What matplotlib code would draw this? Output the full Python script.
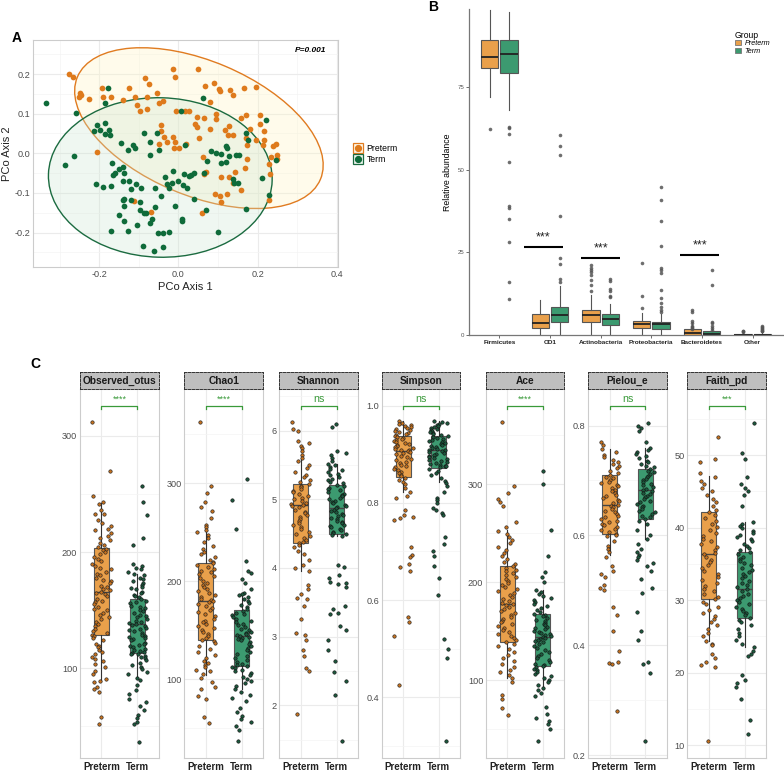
import numpy as np
import matplotlib
matplotlib.use("Agg")
import matplotlib.pyplot as plt
from matplotlib.patches import Ellipse, Patch
from matplotlib.lines import Line2D
from matplotlib.ticker import FixedLocator, MultipleLocator
import matplotlib.transforms as mtransforms

plt.rcParams['font.family'] = ['Liberation Sans', 'DejaVu Sans']

# ---------------- panel A : PCoA ----------------
pre_x = [-0.275, -0.265, -0.249, -0.247, -0.252, -0.226, -0.192, -0.191, -0.170, -0.140,
         -0.124, -0.110, -0.104, -0.098, -0.083, -0.074, -0.080, -0.078, -0.053, -0.048,
         -0.039, -0.045, -0.043, -0.036, -0.013, -0.008, 0.050, 0.066, 0.091, 0.079,
         0.102, 0.106, 0.130, 0.137, 0.165, 0.196, 0.046, 0.043, 0.047, 0.064,
         0.094, 0.095, 0.081, 0.118, 0.129, 0.125, 0.137, 0.159, 0.172, 0.181,
         0.171, 0.174, 0.207, 0.207, 0.216, 0.217, 0.213, 0.238, 0.246, 0.250,
         0.249, 0.234, 0.231, 0.229, 0.173, 0.168, 0.142, 0.129, 0.123, 0.105,
         0.108, 0.092, 0.060, 0.065, 0.070, -0.008, -0.011, -0.029, -0.013, -0.006,
         0.018, 0.028, 0.051, 0.061, -0.048, -0.068, -0.112, -0.206, 0.001, 0.019,
         0.137, 0.159, 0.108, 0.197, 0.230]
pre_y = [0.199, 0.192, 0.153, 0.147, 0.143, 0.137, 0.164, 0.143, 0.143, 0.134,
         0.166, 0.143, 0.122, 0.108, 0.191, 0.174, 0.143, 0.111, 0.153, 0.126,
         0.132, 0.071, 0.056, 0.042, 0.214, 0.193, 0.214, 0.170, 0.178, 0.130,
         0.162, 0.158, 0.161, 0.147, 0.166, 0.168, 0.092, 0.073, 0.067, 0.090,
         0.099, 0.086, 0.061, 0.059, 0.069, 0.045, 0.045, 0.090, 0.097, 0.061,
         0.038, 0.022, 0.097, 0.074, 0.056, 0.034, 0.021, 0.018, 0.023, -0.004,
         -0.015, -0.009, -0.052, -0.118, -0.015, -0.038, -0.046, -0.061, -0.102, -0.109,
         -0.122, -0.103, -0.150, -0.052, -0.048, 0.028, 0.014, 0.028, 0.040, 0.108,
         0.108, 0.108, 0.038, -0.010, 0.023, -0.149, -0.121, 0.003, 0.013, 0.023,
         -0.074, -0.092, -0.059, 0.033, -0.027]
term_x = [-0.333, -0.259, -0.264, -0.286, -0.178, -0.186, -0.206, -0.212, -0.199, -0.186,
          -0.175, -0.186, -0.173, -0.144, -0.115, -0.128, -0.109, -0.088, -0.071, -0.048,
          -0.053, -0.071, -0.167, -0.160, -0.165, -0.151, -0.140, -0.138, -0.209, -0.190,
          -0.171, -0.140, -0.124, -0.108, -0.119, -0.137, -0.139, -0.136, -0.120, -0.097,
          -0.150, -0.137, -0.127, -0.170, -0.104, -0.098, -0.081, -0.087, -0.060, -0.066,
          -0.071, -0.060, -0.044, -0.052, -0.040, -0.023, -0.089, -0.062, -0.040, -0.034,
          -0.029, -0.023, -0.013, -0.016, -0.009, 0.008, 0.008, 0.011, 0.013, 0.022,
          0.026, 0.032, 0.039, 0.039, 0.071, 0.064, 0.073, 0.083, 0.094, 0.107,
          0.121, 0.107, 0.121, 0.124, 0.129, 0.139, 0.141, 0.150, 0.170, 0.145,
          0.152, 0.172, 0.177, 0.211, 0.229, 0.222, 0.246, 0.063, 0.006, 0.018,
          0.100, -0.001, -0.094]
term_y = [0.127, 0.101, -0.008, -0.030, 0.164, 0.126, 0.072, 0.057, 0.060, 0.077,
          0.059, 0.049, 0.047, 0.027, 0.021, 0.008, 0.013, 0.050, 0.028, 0.008,
          0.050, -0.005, -0.025, -0.049, -0.055, -0.040, -0.035, -0.049, -0.077, -0.084,
          -0.082, -0.071, -0.071, -0.078, -0.090, -0.115, -0.118, -0.132, -0.118, -0.123,
          -0.155, -0.172, -0.195, -0.196, -0.181, -0.143, -0.150, -0.151, -0.136, -0.166,
          -0.176, -0.088, -0.108, -0.202, -0.202, -0.199, -0.235, -0.246, -0.237, -0.059,
          -0.077, -0.087, -0.044, -0.074, -0.132, -0.165, -0.171, -0.081, -0.052, -0.088,
          -0.057, -0.054, -0.050, -0.115, -0.144, -0.049, -0.019, 0.006, 0.002, -0.025,
          -0.021, -0.003, 0.018, 0.013, -0.007, -0.066, -0.074, -0.074, -0.141, -0.005,
          -0.005, 0.050, 0.033, -0.062, -0.106, 0.083, -0.017, 0.139, 0.108, 0.022,
          -0.198, -0.071, -0.087]

# ---------------- panel B : relative abundance ----------------
taxa = ['Firmicutes', 'OD1', 'Actinobacteria', 'Proteobacteria', 'Bacteroidetes', 'Other']
b_pre_med = [84.2, 3.4, 5.9, 3.2, 0.5, 0.05]
b_pre_q1 = [80.6, 1.9, 3.8, 2.1, 0.0, 0.0]
b_pre_q3 = [89.2, 6.2, 7.5, 4.1, 1.6, 0.2]
b_pre_lo = [71.9, 0.0, 0.0, 0.3, 0.0, 0.0]
b_pre_hi = [98.2, 10.4, 12.0, 6.5, 3.8, 0.5]
b_pre_fliers = [[62.3],
                [],
                [21.0, 20.3, 19.7, 19.0, 18.2, 16.5, 15.0, 13.3],
                [21.6, 11.6, 8.0],
                [7.5, 7.0, 4.1, 3.4, 2.6, 2.3, 2.0, 1.8],
                [1.2, 1.0, 0.9]]
b_term_med = [84.9, 5.9, 4.7, 3.1, 0.3, 0.05]
b_term_q1 = [79.3, 3.7, 2.9, 1.7, 0.0, 0.0]
b_term_q3 = [89.2, 8.3, 6.2, 3.9, 1.0, 0.3]
b_term_lo = [68.1, 0.0, 0.0, 0.2, 0.0, 0.0]
b_term_hi = [97.8, 14.7, 9.3, 6.2, 2.3, 0.7]
b_term_fliers = [[63.0, 62.5, 60.9, 52.4, 38.9, 38.4, 35.1, 28.2, 15.9, 10.9],
                 [60.3, 57.1, 54.5, 35.8, 23.1, 21.3, 16.9, 15.9],
                 [16.9, 16.3, 13.7, 13.3, 11.7, 11.3],
                 [44.8, 40.9, 34.4, 26.7, 20.3, 19.7, 18.7, 13.5, 11.2, 9.5, 8.3, 7.6, 7.0],
                 [19.7, 15.1, 3.9, 3.4, 2.6, 1.9, 1.5],
                 [2.6, 2.3, 2.0, 1.7, 1.4, 1.2, 1.0]]
b_sig_pos = [1.87, 3.0, 4.96]
b_sig_y = [26.4, 23.1, 24.0]

# ---------------- panel C : alpha diversity ----------------
metrics = ['Observed_otus', 'Chao1', 'Shannon', 'Simpson', 'Ace', 'Pielou_e', 'Faith_pd']
sig_labels = ['****', '****', 'ns', 'ns', '****', 'ns', '***']

obs_pre = [312, 270, 248, 243, 241, 236, 233, 233, 228, 225, 222, 220, 219, 216, 214, 212, 210, 208,
           206, 204, 203, 202, 200, 198, 196, 194, 192, 190, 188, 186, 185, 183, 181, 180, 178, 176,
           175, 173, 171, 170, 168, 167, 166, 165, 164, 162, 160, 158, 157, 155, 153, 151, 150, 148,
           146, 144, 142, 140, 138, 136, 134, 132, 130, 129, 128, 126, 124, 121, 119, 118, 116, 114,
           112, 110, 108, 106, 104, 101, 98, 95, 91, 89, 88, 84, 82, 80, 58, 52]
obs_term = [257, 243, 232, 212, 206, 190, 188, 186, 185, 183, 181, 180, 178, 177, 175, 173, 172, 170,
            169, 168, 166, 165, 163, 162, 161, 160, 158, 157, 156, 154, 153, 152, 150, 149, 148, 146,
            145, 144, 142, 141, 140, 139, 138, 137, 136, 135, 134, 133, 132, 130, 129, 128, 127, 126,
            125, 124, 122, 121, 120, 119, 118, 117, 116, 115, 114, 113, 112, 112, 111, 110, 109, 107,
            105, 103, 101, 99, 97, 95, 92, 90, 86, 81, 78, 74, 71, 68, 64, 60, 57, 54, 52, 37]
chao_pre = [363, 297, 290, 281, 276, 272, 265, 257, 255, 252, 250, 247, 244, 240, 236, 233, 230, 228,
            225, 222, 220, 219, 217, 215, 213, 211, 209, 207, 205, 203, 200, 198, 196, 194, 192, 190,
            188, 186, 184, 182, 181, 180, 179, 177, 175, 173, 171, 169, 167, 165, 162, 160, 158, 156,
            154, 152, 150, 148, 146, 144, 142, 140, 139, 137, 134, 131, 128, 125, 122, 119, 117, 115,
            113, 110, 108, 105, 101, 97, 92, 90, 83, 80, 62, 55]
chao_term = [304, 283, 253, 221, 210, 208, 202, 198, 192, 188, 187, 186, 184, 182, 180, 178, 176, 174,
             172, 170, 168, 167, 166, 164, 162, 160, 158, 156, 155, 153, 151, 150, 148, 147, 146, 145,
             144, 143, 142, 141, 140, 138, 136, 134, 132, 130, 128, 126, 124, 122, 120, 118, 116, 115,
             114, 113, 112, 110, 108, 106, 104, 102, 100, 98, 96, 93, 90, 87, 84, 81, 78, 71, 67, 63,
             59, 56, 52, 48, 37]
shan_pre = [6.13, 6.02, 6.0, 5.85, 5.82, 5.78, 5.75, 5.70, 5.65, 5.60, 5.55, 5.50, 5.45, 5.40, 5.36,
            5.32, 5.28, 5.25, 5.22, 5.20, 5.18, 5.15, 5.12, 5.10, 5.08, 5.05, 5.02, 5.00, 4.98, 4.95,
            4.93, 4.91, 4.90, 4.88, 4.85, 4.82, 4.80, 4.77, 4.74, 4.71, 4.68, 4.65, 4.62, 4.59, 4.56,
            4.53, 4.50, 4.47, 4.44, 4.41, 4.38, 4.36, 4.33, 4.30, 4.25, 4.20, 4.12, 4.05, 4.00, 3.95,
            3.75, 3.70, 3.62, 3.57, 3.55, 3.45, 3.25, 3.05, 3.02, 2.95, 2.80, 2.72, 2.55, 2.50, 1.88]
shan_term = [6.10, 6.05, 5.70, 5.68, 5.65, 5.60, 5.55, 5.52, 5.50, 5.47, 5.44, 5.42, 5.40, 5.37, 5.35,
             5.33, 5.30, 5.28, 5.25, 5.23, 5.21, 5.19, 5.17, 5.15, 5.13, 5.10, 5.08, 5.06, 5.04, 5.02,
             5.00, 4.98, 4.96, 4.94, 4.92, 4.90, 4.88, 4.87, 4.85, 4.83, 4.81, 4.79, 4.77, 4.75, 4.73,
             4.71, 4.69, 4.67, 4.65, 4.63, 4.61, 4.59, 4.57, 4.55, 4.53, 4.51, 4.49, 4.48, 4.47, 4.05,
             4.02, 3.90, 3.85, 3.80, 3.78, 3.77, 3.72, 3.45, 3.40, 3.35, 3.33, 3.15, 3.10, 2.95, 2.80,
             2.65, 2.48, 2.35, 2.15, 1.48]
simp_pre = [0.968, 0.965, 0.962, 0.960, 0.958, 0.956, 0.954, 0.952, 0.950, 0.948, 0.946, 0.944, 0.942,
            0.940, 0.938, 0.936, 0.934, 0.932, 0.930, 0.928, 0.926, 0.924, 0.922, 0.920, 0.918, 0.916,
            0.914, 0.912, 0.910, 0.908, 0.906, 0.904, 0.902, 0.900, 0.897, 0.894, 0.891, 0.888, 0.885,
            0.882, 0.879, 0.876, 0.873, 0.870, 0.867, 0.864, 0.861, 0.858, 0.855, 0.852, 0.848, 0.843,
            0.838, 0.830, 0.822, 0.815, 0.810, 0.785, 0.775, 0.772, 0.768, 0.765, 0.710, 0.692, 0.688,
            0.675, 0.668, 0.660, 0.565, 0.555, 0.525, 0.425]
simp_term = [0.968, 0.966, 0.964, 0.962, 0.960, 0.958, 0.956, 0.954, 0.952, 0.950, 0.948, 0.946, 0.944,
             0.942, 0.940, 0.938, 0.936, 0.934, 0.932, 0.930, 0.928, 0.926, 0.924, 0.922, 0.920, 0.918,
             0.916, 0.914, 0.912, 0.910, 0.909, 0.907, 0.905, 0.903, 0.901, 0.899, 0.897, 0.895, 0.893,
             0.891, 0.889, 0.887, 0.885, 0.883, 0.881, 0.879, 0.877, 0.875, 0.873, 0.870, 0.866, 0.862,
             0.858, 0.852, 0.846, 0.840, 0.835, 0.822, 0.810, 0.805, 0.800, 0.790, 0.785, 0.780, 0.775,
             0.730, 0.715, 0.700, 0.690, 0.670, 0.645, 0.610, 0.520, 0.500, 0.480, 0.310]
ace_pre = [364, 298, 291, 285, 282, 278, 262, 256, 252, 249, 246, 243, 240, 236, 233, 230, 227, 224,
           221, 219, 217, 215, 213, 211, 209, 207, 205, 203, 201, 199, 197, 195, 193, 191, 189, 187,
           185, 183, 181, 179, 178, 177, 175, 173, 171, 169, 167, 165, 163, 161, 159, 157, 155, 153,
           151, 149, 147, 145, 143, 141, 139, 137, 135, 132, 129, 126, 123, 120, 117, 114, 111, 108,
           105, 102, 98, 85, 81, 72, 65]
ace_term = [314, 300, 253, 227, 210, 205, 200, 192, 190, 188, 186, 184, 182, 180, 178, 176, 174, 172,
            170, 168, 167, 166, 164, 162, 160, 158, 157, 156, 154, 153, 152, 150, 149, 148, 147, 146,
            145, 144, 143, 142, 141, 140, 139, 137, 135, 133, 131, 129, 127, 125, 123, 121, 119, 117,
            116, 115, 114, 112, 110, 108, 106, 104, 102, 100, 98, 95, 92, 90, 87, 84, 73, 66, 62, 58,
            55, 50, 38]
piel_pre = [0.770, 0.765, 0.757, 0.752, 0.747, 0.742, 0.738, 0.734, 0.730, 0.726, 0.722, 0.718, 0.714,
            0.710, 0.707, 0.704, 0.701, 0.698, 0.695, 0.692, 0.689, 0.686, 0.683, 0.680, 0.677, 0.674,
            0.671, 0.668, 0.665, 0.662, 0.659, 0.656, 0.654, 0.651, 0.648, 0.645, 0.642, 0.639, 0.636,
            0.633, 0.630, 0.627, 0.624, 0.621, 0.618, 0.615, 0.612, 0.609, 0.606, 0.603, 0.601, 0.598,
            0.590, 0.580, 0.575, 0.570, 0.560, 0.545, 0.535, 0.530, 0.525, 0.510, 0.505, 0.500, 0.470,
            0.455, 0.425, 0.390, 0.370, 0.368, 0.365, 0.280]
piel_term = [0.805, 0.800, 0.795, 0.790, 0.770, 0.760, 0.756, 0.752, 0.748, 0.744, 0.740, 0.736, 0.733,
             0.730, 0.727, 0.724, 0.721, 0.718, 0.715, 0.712, 0.709, 0.706, 0.703, 0.700, 0.697, 0.694,
             0.691, 0.688, 0.685, 0.683, 0.681, 0.678, 0.675, 0.672, 0.669, 0.666, 0.663, 0.660, 0.657,
             0.654, 0.651, 0.648, 0.645, 0.642, 0.639, 0.636, 0.633, 0.630, 0.627, 0.620, 0.610, 0.600,
             0.593, 0.585, 0.575, 0.570, 0.565, 0.560, 0.555, 0.550, 0.545, 0.535, 0.520, 0.505, 0.495,
             0.460, 0.425, 0.410, 0.370, 0.365, 0.350, 0.225]
faith_pre = [52.5, 49.5, 49.0, 47.5, 47.0, 46.5, 46.0, 45.5, 45.0, 44.5, 44.0, 43.5, 43.0, 42.5, 42.1,
             41.7, 41.3, 40.9, 40.5, 40.1, 39.7, 39.3, 38.9, 38.5, 38.1, 37.7, 37.3, 36.9, 36.5, 36.3,
             36.0, 35.6, 35.2, 34.8, 34.4, 34.0, 33.6, 33.2, 32.8, 32.4, 32.0, 31.6, 31.2, 30.8, 30.4,
             30.1, 29.8, 29.4, 29.0, 28.6, 28.2, 27.8, 27.4, 27.0, 26.5, 26.0, 25.5, 25.0, 24.4, 24.0,
             23.8, 22.5, 22.0, 21.5, 21.0, 20.8, 10.5]
faith_term = [54.5, 50.3, 49.5, 47.0, 46.0, 45.5, 45.0, 44.5, 43.0, 40.8, 40.5, 40.2, 39.9, 39.6, 39.3,
              39.0, 38.7, 38.4, 38.1, 37.8, 37.5, 37.2, 36.9, 36.6, 36.3, 36.0, 35.7, 35.4, 35.1, 34.8,
              34.5, 34.2, 33.9, 33.6, 33.3, 33.0, 32.7, 32.4, 32.1, 31.8, 31.5, 31.2, 30.9, 30.6, 30.3,
              30.0, 29.7, 29.4, 29.1, 28.8, 28.5, 28.2, 27.9, 27.6, 27.3, 27.0, 26.5, 26.0, 25.5, 25.0,
              24.5, 24.0, 23.6, 23.0, 22.5, 22.3, 19.7, 19.0, 18.5, 18.0, 16.3, 13.4, 11.5]

c_pre_med = [165.9, 180.2, 4.91, 0.906, 178.2, 0.655, 36.3]
c_pre_q1 = [128.4, 139.8, 4.36, 0.854, 138.8, 0.602, 30.1]
c_pre_q3 = [203.4, 218.7, 5.22, 0.937, 217.0, 0.710, 42.1]
c_pre_lo = [89.1, 104.0, 3.95, 0.822, 102.0, 0.564, 24.4]
c_pre_hi = [242.4, 253.0, 5.58, 0.968, 253.4, 0.757, 47.2]
c_term_med = [138.1, 144.2, 4.87, 0.909, 144.2, 0.682, 31.5]
c_term_q1 = [112.9, 113.3, 4.49, 0.872, 114.9, 0.629, 27.6]
c_term_q3 = [159.9, 171.0, 5.21, 0.938, 167.7, 0.721, 36.7]
c_term_lo = [90.5, 89.8, 4.47, 0.844, 90.8, 0.593, 23.6]
c_term_hi = [181.1, 188.4, 5.52, 0.968, 192.4, 0.760, 40.8]

c_ticks = [[100, 200, 300], [100, 200, 300], [2, 3, 4, 5, 6], [0.4, 0.6, 0.8, 1.0],
           [100, 200, 300], [0.2, 0.4, 0.6, 0.8], [10, 20, 30, 40, 50]]
c_minor = [50, 50, 0.5, 0.1, 50, 0.1, 5]
c_ylim = [(22.6, 340), (19.4, 395.9), (1.23, 6.6), (0.274, 1.034), (20.4, 396.9),
          (0.194, 0.866), (8.17, 59.1)]

# colours
ORANGE_PT = '#DE7A1C'
GREEN_PT = '#0F6B3A'
ORANGE_BOX = '#E9A04B'
GREEN_BOX = '#3C9A70'
SIG_GREEN = '#3A9A3A'
GRID = '#EBEBEB'
TICKCOL = '#4D4D4D'

W, H = 784, 773
fig = plt.figure(figsize=(W / 100, H / 100), dpi=100)


def px_axes(x0, y0, x1, y1):
    # axes from pixel box (top-left origin)
    return fig.add_axes([x0 / W, 1 - y1 / H, (x1 - x0) / W, (y1 - y0) / H])


def jitter(n, width, seed=0.0):
    # deterministic hash-style scatter of x offsets
    h = np.sin(np.arange(n) * 12.9898 + seed * 78.233) * 43758.5453
    return ((h % 1.0) - 0.5) * 2 * width


def light_theme(ax):
    ax.set_facecolor('white')
    for s in ax.spines.values():
        s.set_color('#CCCCCC')
        s.set_linewidth(0.8)
    ax.grid(True, which='major', color=GRID, lw=0.8, zorder=0)
    ax.grid(True, which='minor', color='#F4F4F4', lw=0.5, zorder=0)
    ax.set_axisbelow(True)
    ax.tick_params(which='both', length=0, colors=TICKCOL)


def robust_cov(pts, nu=5, iters=50):
    # multivariate t location/scatter, as stat_ellipse(type = "t") does
    n, p = pts.shape
    loc = pts.mean(axis=0)
    cov = np.cov(pts.T)
    for _ in range(iters):
        d = pts - loc
        d2 = np.einsum('ij,jk,ik->i', d, np.linalg.inv(cov), d)
        w = (nu + p) / (nu + d2)
        loc = (w[:, None] * pts).sum(axis=0) / w.sum()
        d = pts - loc
        cov = (w[:, None, None] * np.einsum('ij,ik->ijk', d, d)).sum(axis=0) / n
    return loc, cov


def add_ellipse(ax, x, y, edge, face):
    pts = np.column_stack([x, y])
    loc, cov = robust_cov(pts)
    vals, vecs = np.linalg.eigh(cov)
    scale = np.sqrt(2 * 3.09)  # sqrt(2 * qf(0.95, 2, n - 1))
    angle = np.degrees(np.arctan2(vecs[1, 1], vecs[0, 1]))
    e = Ellipse(loc, 2 * scale * np.sqrt(vals[1]), 2 * scale * np.sqrt(vals[0]),
                angle=angle, facecolor=face, edgecolor=edge, lw=1.0, zorder=1)
    ax.add_patch(e)


# ================= A =================
axA = px_axes(33, 40, 338, 267)
light_theme(axA)
add_ellipse(axA, pre_x, pre_y, '#E07B20', (1.0, 0.96, 0.78, 0.35))
add_ellipse(axA, term_x, term_y, '#1B6B40', (0.80, 0.90, 0.82, 0.30))
axA.scatter(pre_x, pre_y, s=17, color=ORANGE_PT, zorder=3, linewidths=0)
axA.scatter(term_x, term_y, s=17, color=GREEN_PT, zorder=3, linewidths=0)
axA.set_xlim(-0.367, 0.403)
axA.set_ylim(-0.287, 0.286)
axA.xaxis.set_major_locator(FixedLocator([-0.2, 0.0, 0.2, 0.4]))
axA.xaxis.set_minor_locator(FixedLocator([-0.3, -0.1, 0.1, 0.3]))
axA.yaxis.set_major_locator(FixedLocator([-0.2, -0.1, 0.0, 0.1, 0.2]))
axA.yaxis.set_minor_locator(FixedLocator([-0.25, -0.15, -0.05, 0.05, 0.15, 0.25]))
axA.set_xticklabels(['-0.2', '0.0', '0.2', '0.4'])
axA.set_yticklabels(['-0.2', '-0.1', '0.0', '0.1', '0.2'])
axA.tick_params(labelsize=6.6, pad=2)
axA.set_xlabel('PCo Axis 1', fontsize=8, color='#222222', labelpad=2)
axA.set_ylabel('PCo Axis 2', fontsize=8, color='#222222', labelpad=2)
axA.text(0.96, 0.955, 'P=0.001', transform=axA.transAxes, ha='right', va='center',
         fontsize=6, fontweight='bold', fontstyle='italic')
hA = [(Line2D([], [], marker='s', ls='', ms=7.5, mfc='#FFF8E8', mec='#E07B20', mew=0.9),
       Line2D([], [], marker='o', ls='', ms=4.2, color=ORANGE_PT)),
      (Line2D([], [], marker='s', ls='', ms=7.5, mfc='#EEF5EF', mec='#1B6B40', mew=0.9),
       Line2D([], [], marker='o', ls='', ms=4.2, color=GREEN_PT))]
fig.legend(hA, ['Preterm', 'Term'], loc='center left', bbox_to_anchor=(346 / W, 1 - 154 / H),
           frameon=False, fontsize=6.2, handlelength=1.0, handletextpad=0.5, labelspacing=0.25)
fig.text(12 / W, 1 - 38 / H, 'A', fontsize=10, fontweight='bold', va='center')

# ================= B =================
axB = px_axes(469, 9.3, 783, 334.7)
axB.set_facecolor('white')
for side in ['top', 'right']:
    axB.spines[side].set_visible(False)
for side in ['left', 'bottom']:
    axB.spines[side].set_color('#777777')
    axB.spines[side].set_linewidth(0.9)
pos = np.arange(1, len(taxa) + 1)
for stats_src, offs, col in [((b_pre_med, b_pre_q1, b_pre_q3, b_pre_lo, b_pre_hi, b_pre_fliers), -0.19, ORANGE_BOX),
                             ((b_term_med, b_term_q1, b_term_q3, b_term_lo, b_term_hi, b_term_fliers), 0.19, GREEN_BOX)]:
    med, q1, q3, lo, hi, fl = stats_src
    stats = [dict(med=med[i], q1=q1[i], q3=q3[i], whislo=lo[i], whishi=hi[i], fliers=fl[i])
             for i in range(len(taxa))]
    axB.bxp(stats, positions=pos + offs, widths=0.34, patch_artist=True, showcaps=False,
            manage_ticks=False,
            boxprops=dict(facecolor=col, edgecolor='#555555', lw=0.8),
            whiskerprops=dict(color='#555555', lw=0.8),
            medianprops=dict(color='#222222', lw=1.3),
            flierprops=dict(marker='o', ms=2.6, mfc='#555555', mec='none', alpha=0.85))
for xc, yb in zip(b_sig_pos, b_sig_y):
    axB.plot([xc - 0.385, xc + 0.385], [yb, yb], color='black', lw=1.5, solid_capstyle='butt')
    axB.text(xc, yb + 1.2, '***', ha='center', va='bottom', fontsize=9, color='#222222')
axB.set_xlim(0.4, 6.6)
axB.set_ylim(0, 98.5)
axB.set_xticks(pos)
axB.set_xticklabels(taxa, fontsize=4.6, fontweight='bold', color='#222222')
axB.set_yticks([0, 25, 50, 75])
axB.tick_params(axis='y', labelsize=4.4, colors='#555555', length=2, width=0.6, pad=1.5)
axB.tick_params(axis='x', length=2, width=0.6, colors='#555555', pad=1.5)
for t in axB.get_xticklabels():
    t.set_color('#222222')
axB.set_ylabel('Relative abundance', fontsize=6.3, labelpad=4)
hB = [Patch(facecolor=ORANGE_BOX, edgecolor='#777777', lw=0.6),
      Patch(facecolor=GREEN_BOX, edgecolor='#777777', lw=0.6)]
legB = fig.legend(hB, ['Preterm', 'Term'], title='Group', loc='upper left',
                  bbox_to_anchor=(728 / W, 1 - 24 / H), frameon=False, fontsize=5.2,
                  title_fontsize=6.2, handlelength=0.9, handleheight=0.7,
                  handletextpad=0.5, labelspacing=0.1)
legB._legend_box.align = 'left'
for t in legB.get_texts():
    t.set_fontstyle('italic')
fig.text(428 / W, 1 - 7 / H, 'B', fontsize=10, fontweight='bold', va='center')

# ================= C =================
facet_x = [(80, 158.7), (184.3, 263.3), (279.3, 358), (381.7, 460), (486, 564.3),
           (588.3, 666.7), (687.3, 766.3)]
pre_sets = [obs_pre, chao_pre, shan_pre, simp_pre, ace_pre, piel_pre, faith_pre]
term_sets = [obs_term, chao_term, shan_term, simp_term, ace_term, piel_term, faith_term]
for i, name in enumerate(metrics):
    x0, x1 = facet_x[i]
    ax = px_axes(x0, 389.3, x1, 758.3)
    light_theme(ax)
    for k, (src, col) in enumerate([((c_pre_med, c_pre_q1, c_pre_q3, c_pre_lo, c_pre_hi), ORANGE_BOX),
                                    ((c_term_med, c_term_q1, c_term_q3, c_term_lo, c_term_hi), GREEN_BOX)]):
        med, q1, q3, lo, hi = src
        st = [dict(med=med[i], q1=q1[i], q3=q3[i], whislo=lo[i], whishi=hi[i], fliers=[])]
        ax.bxp(st, positions=[k + 1], widths=0.42, patch_artist=True, showcaps=False,
               manage_ticks=False,
               boxprops=dict(facecolor=col, edgecolor='#555555', lw=0.8),
               whiskerprops=dict(color='#333333', lw=0.8),
               medianprops=dict(color='#444444', lw=1.0), zorder=2)
    yp = np.asarray(pre_sets[i])
    yt = np.asarray(term_sets[i])
    ax.scatter(1 + jitter(len(yp), 0.27, i), yp, s=6, c='#C8721E', edgecolors='#222222',
               linewidths=0.45, zorder=3)
    ax.scatter(2 + jitter(len(yt), 0.27, i + 10), yt, s=6, c='#1C5A3E', edgecolors='#111111',
               linewidths=0.45, zorder=3)
    ax.set_xlim(0.4, 2.6)
    ax.set_ylim(*c_ylim[i])
    ax.xaxis.set_major_locator(FixedLocator([1, 2]))
    ax.yaxis.set_major_locator(FixedLocator(c_ticks[i]))
    ax.yaxis.set_minor_locator(MultipleLocator(c_minor[i]))
    ax.set_xticklabels(['Preterm', 'Term'], fontsize=7.0, fontweight='bold', color='#222222')
    ax.tick_params(axis='y', labelsize=6.6, pad=2)
    ax.tick_params(axis='x', pad=2.5)
    ax.yaxis.set_major_formatter(plt.FuncFormatter(
        lambda v, p, t=c_ticks[i]: ('%g' % v) if all(float(z).is_integer() for z in t) else '%.1f' % v))
    # significance bracket
    tr = mtransforms.blended_transform_factory(ax.transData, ax.transAxes)
    yb = 0.955
    ax.plot([1, 1, 2, 2], [yb - 0.009, yb, yb, yb - 0.009], color=SIG_GREEN, lw=0.9,
            transform=tr, clip_on=False)
    if sig_labels[i] == 'ns':
        ax.text(1.5, yb + 0.004, 'ns', transform=tr, ha='center', va='bottom',
                fontsize=7.7, color=SIG_GREEN)
    else:
        ax.text(1.5, yb + 0.006, sig_labels[i], transform=tr, ha='center', va='bottom',
                fontsize=6.5, color=SIG_GREEN)
    # strip
    sax = px_axes(x0, 371.7, x1, 389.3)
    sax.set_facecolor('#BFBFBF')
    sax.set_xticks([])
    sax.set_yticks([])
    for s in sax.spines.values():
        s.set_linestyle((0, (2.5, 1.5)))
        s.set_color('#333333')
        s.set_linewidth(0.7)
    sax.text(0.5, 0.45, name, ha='center', va='center', fontsize=7.3, fontweight='bold',
             color='#1A1A1A', transform=sax.transAxes)

fig.text(30 / W, 1 - 364 / H, 'C', fontsize=10, fontweight='bold', va='center')

fig.savefig('out.png', dpi=100, facecolor='white')
